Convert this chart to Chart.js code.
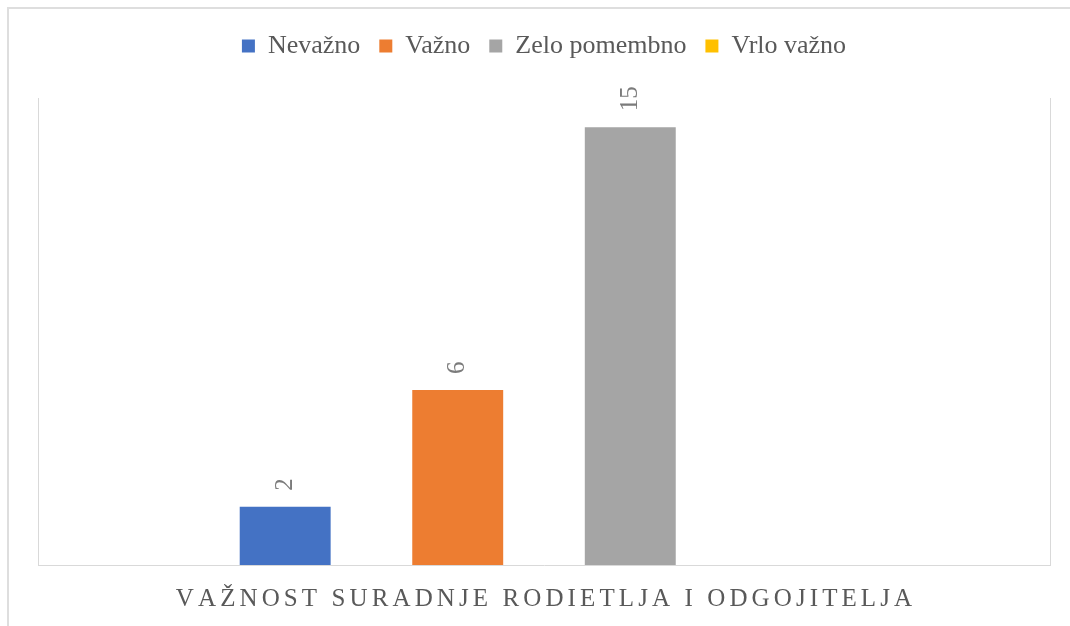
<!DOCTYPE html>
<html>
<head>
<meta charset="utf-8">
<script src="https://cdn.jsdelivr.net/npm/chart.js@4.4.0/dist/chart.umd.min.js"></script>
<style>
  html, body { margin: 0; padding: 0; background: #fff; }
  #wrap { width: 1070px; height: 626px; position: relative; }
</style>
</head>
<body>
<div id="wrap"><canvas id="chart" width="1070" height="626"></canvas></div>
<script>
const categories = ["VAŽNOST SURADNJE RODIETLJA I ODGOJITELJA"];
const seriesNames = ["Nevažno", "Važno", "Zelo pomembno", "Vrlo važno"];
const nevazno = [2];
const vazno = [6];
const zeloPomembno = [15];
const vrloVazno = [null];
const seriesColors = ["#4472c4", "#ed7d31", "#a5a5a5", "#ffc000"];

const FONT = "'Liberation Serif', 'Times New Roman', serif";

// light frame round the chart (only top/left visible in the crop)
const framePlugin = {
  id: "frame",
  beforeDraw(chart) {
    const ctx = chart.ctx;
    ctx.save();
    ctx.fillStyle = "#fff";
    ctx.fillRect(0, 0, chart.width, chart.height);
    ctx.fillStyle = "#dedede";
    ctx.fillRect(7, 7, chart.width, 2);
    ctx.fillRect(7, 7, 2, chart.height);
    ctx.restore();
  }
};

// extra room under the legend
const legendGap = {
  id: "legendGap",
  beforeInit(chart) {
    const fit = chart.legend.fit;
    chart.legend.fit = function () {
      fit.bind(chart.legend)();
      this.height += 29;
    };
  }
};

// rotated value labels above each bar
const valueLabels = {
  id: "valueLabels",
  afterDatasetsDraw(chart) {
    const ctx = chart.ctx;
    ctx.save();
    ctx.font = "25px " + FONT;
    ctx.fillStyle = "#7b7b7b";
    ctx.textAlign = "left";
    ctx.textBaseline = "middle";
    chart.data.datasets.forEach((ds, i) => {
      const meta = chart.getDatasetMeta(i);
      meta.data.forEach((bar, j) => {
        const v = ds.data[j];
        if (v === null || v === undefined) return;
        ctx.save();
        ctx.translate(bar.x, bar.y - 16);
        ctx.rotate(-Math.PI / 2);
        ctx.fillText(String(v), 0, 0);
        ctx.restore();
      });
    });
    ctx.restore();
  }
};

// spaced-out category name under the axis
const categoryTitle = {
  id: "categoryTitle",
  afterDraw(chart) {
    const ctx = chart.ctx;
    const x = chart.scales.x;
    const text = chart.data.labels[0];
    const spacing = 4.1;
    ctx.save();
    ctx.font = "25px " + FONT;
    ctx.fillStyle = "#595959";
    ctx.textBaseline = "middle";
    ctx.textAlign = "left";
    const chars = Array.from(text);
    const widths = chars.map(c => ctx.measureText(c).width);
    const total = widths.reduce((a, b) => a + b, 0) + spacing * (chars.length - 1);
    let cx = x.getPixelForValue(0) - total / 2;
    chars.forEach((c, k) => {
      ctx.fillText(c, cx, 599);
      cx += widths[k] + spacing;
    });
    ctx.restore();
  }
};

const seriesData = [nevazno, vazno, zeloPomembno, vrloVazno];

new Chart(document.getElementById("chart"), {
  type: "bar",
  data: {
    labels: categories,
    datasets: seriesNames.map((name, i) => ({
      label: name,
      data: seriesData[i],
      backgroundColor: seriesColors[i],
      borderWidth: 0,
      categoryPercentage: 0.682,
      barPercentage: 0.527
    }))
  },
  options: {
    responsive: false,
    animation: false,
    events: [],
    layout: { padding: { left: 38, right: 20, top: 14, bottom: 61 } },
    plugins: {
      legend: {
        position: "top",
        labels: {
          font: { family: FONT, size: 26 },
          color: "#595959",
          boxWidth: 13,
          boxHeight: 13,
          padding: 19
        }
      },
      tooltip: { enabled: false }
    },
    scales: {
      x: {
        grid: { color: "#d9d9d9", drawTicks: false, offset: true },
        border: { color: "#d9d9d9" },
        ticks: { display: false }
      },
      y: {
        display: false,
        min: 0,
        max: 16
      }
    }
  },
  plugins: [framePlugin, legendGap, valueLabels, categoryTitle]
});
</script>
</body>
</html>
